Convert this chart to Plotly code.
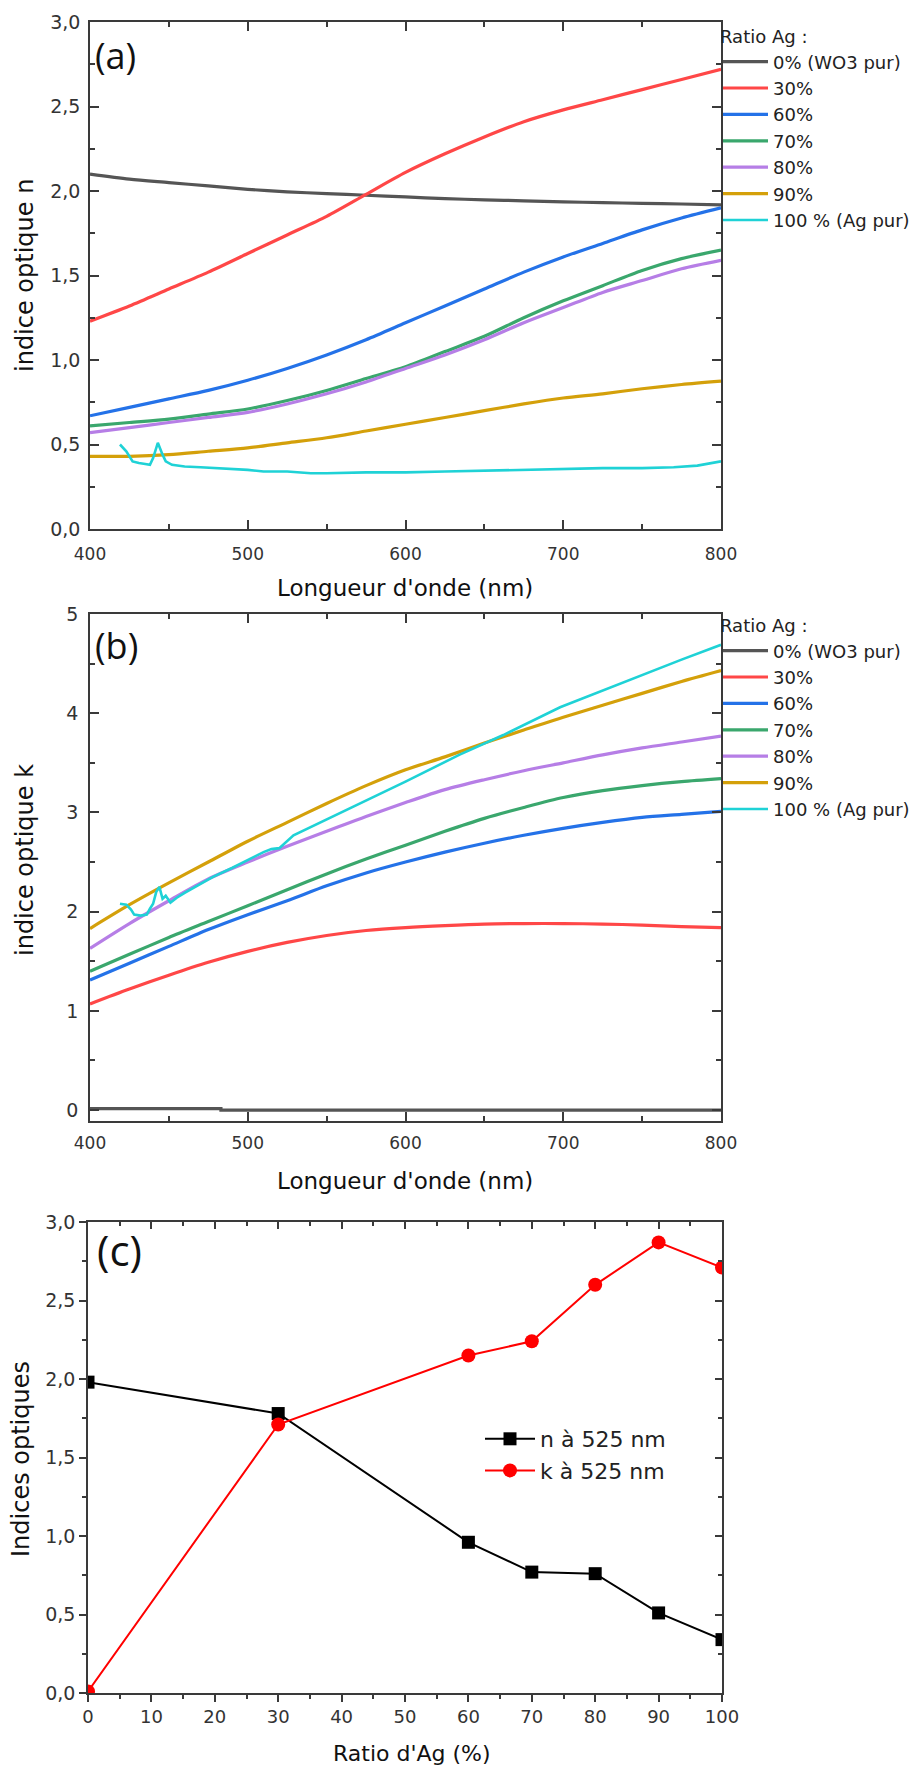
import plotly.graph_objects as go

W, H = 915, 1767

# ---------------- data ----------------
WL = [400, 425, 450, 475, 500, 525, 550, 575, 600, 625, 650, 675, 700, 725, 750, 775, 800]

SERIES_NAMES = ["0% (WO3 pur)", "30%", "60%", "70%", "80%", "90%", "100 % (Ag pur)"]
COLORS = ["#555555", "#ff4747", "#2472e8", "#3aa76d", "#b67ee6", "#d4a00a", "#1fd2d6"]

# panel (a): refractive index n
N_0 = [2.10, 2.07, 2.05, 2.03, 2.01, 1.995, 1.985, 1.975, 1.965, 1.955, 1.948, 1.942, 1.936, 1.931, 1.927, 1.923, 1.918]
N_30 = [1.23, 1.32, 1.42, 1.52, 1.63, 1.74, 1.85, 1.98, 2.11, 2.22, 2.32, 2.41, 2.48, 2.54, 2.60, 2.66, 2.72]
N_60 = [0.67, 0.72, 0.77, 0.82, 0.88, 0.95, 1.03, 1.12, 1.22, 1.32, 1.42, 1.52, 1.61, 1.69, 1.77, 1.84, 1.90]
N_70 = [0.61, 0.63, 0.65, 0.68, 0.71, 0.76, 0.82, 0.89, 0.96, 1.05, 1.14, 1.25, 1.35, 1.44, 1.53, 1.60, 1.65]
N_80 = [0.57, 0.60, 0.63, 0.66, 0.69, 0.74, 0.80, 0.87, 0.95, 1.03, 1.12, 1.22, 1.31, 1.40, 1.47, 1.54, 1.59]
N_90 = [0.43, 0.43, 0.44, 0.46, 0.48, 0.51, 0.54, 0.58, 0.62, 0.66, 0.70, 0.74, 0.775, 0.80, 0.83, 0.855, 0.875]
WL_100N = [419, 423, 427, 431, 435, 438, 440, 443, 446, 448, 452, 460, 470, 480, 500, 510, 525, 540, 550,
           575, 600, 625, 650, 675, 700, 725, 750, 770, 785, 800]
N_100 = [0.50, 0.46, 0.40, 0.39, 0.385, 0.38, 0.42, 0.51, 0.44, 0.40, 0.38, 0.37, 0.365, 0.36, 0.35, 0.34,
         0.34, 0.33, 0.33, 0.335, 0.335, 0.34, 0.345, 0.35, 0.355, 0.36, 0.36, 0.365, 0.375, 0.40]

# panel (b): extinction coefficient k
WL_K0 = [400, 483, 800]
K_0 = [0.015, 0.0, 0.0]
K_30 = [1.07, 1.22, 1.36, 1.49, 1.60, 1.69, 1.76, 1.81, 1.84, 1.86, 1.875, 1.88, 1.88, 1.875, 1.865, 1.85, 1.84]
K_60 = [1.31, 1.48, 1.65, 1.82, 1.97, 2.11, 2.26, 2.39, 2.50, 2.60, 2.69, 2.77, 2.84, 2.90, 2.95, 2.98, 3.01]
K_70 = [1.40, 1.57, 1.74, 1.90, 2.06, 2.22, 2.38, 2.53, 2.67, 2.81, 2.94, 3.05, 3.15, 3.22, 3.27, 3.31, 3.34]
K_80 = [1.63, 1.88, 2.11, 2.33, 2.50, 2.66, 2.81, 2.96, 3.10, 3.23, 3.33, 3.42, 3.50, 3.58, 3.65, 3.71, 3.77]
K_90 = [1.83, 2.07, 2.29, 2.50, 2.71, 2.90, 3.09, 3.27, 3.43, 3.56, 3.70, 3.83, 3.96, 4.08, 4.20, 4.32, 4.43]
WL_100K = [419, 423, 426, 428, 432, 436, 438, 440, 442, 444, 446, 448, 451, 455, 460, 470, 478, 490, 500,
           510, 515, 520, 529, 550, 575, 600, 634, 662, 698, 725, 750, 775, 800]
K_100 = [2.08, 2.07, 2.02, 1.97, 1.96, 1.97, 2.03, 2.08, 2.20, 2.25, 2.13, 2.16, 2.09, 2.14, 2.19, 2.28, 2.35,
         2.44, 2.52, 2.60, 2.63, 2.64, 2.77, 2.93, 3.12, 3.31, 3.58, 3.78, 4.06, 4.23, 4.39, 4.54, 4.69]

# panel (c): indices at 525 nm vs Ag ratio
RATIO = [0, 30, 60, 70, 80, 90, 100]
N_525 = [1.98, 1.78, 0.96, 0.77, 0.76, 0.51, 0.34]
K_525 = [0.01, 1.71, 2.15, 2.24, 2.60, 2.87, 2.71]

# ---------------- layout helpers ----------------
FONT = "DejaVu Sans"
TICK_C = "#333333"
AX_C = "#3a3a3a"


def px(x):
    return x / W


def py(y):
    return 1 - y / H


fig = go.Figure()

n_series = [(WL, N_0), (WL, N_30), (WL, N_60), (WL, N_70), (WL, N_80), (WL, N_90), (WL_100N, N_100)]
k_series = [(WL_K0, K_0), (WL, K_30), (WL, K_60), (WL, K_70), (WL, K_80), (WL, K_90), (WL_100K, K_100)]

for i, (xs, ys) in enumerate(n_series):
    noisy = i == 6
    fig.add_trace(go.Scatter(
        x=xs, y=ys, mode="lines", name=SERIES_NAMES[i],
        line=dict(color=COLORS[i], width=3.2 if not noisy else 2.6,
                  shape="linear" if noisy else "spline", smoothing=0.8),
        xaxis="x", yaxis="y", legend="legend"))

for i, (xs, ys) in enumerate(k_series):
    noisy = i == 6
    shape = "hv" if i == 0 else ("linear" if noisy else "spline")
    fig.add_trace(go.Scatter(
        x=xs, y=ys, mode="lines", name=SERIES_NAMES[i],
        line=dict(color=COLORS[i], width=3.2 if not noisy else 2.6, shape=shape, smoothing=0.8),
        xaxis="x2", yaxis="y2", legend="legend2"))

fig.add_trace(go.Scatter(
    x=RATIO, y=N_525, mode="lines+markers", name="n à 525 nm",
    line=dict(color="black", width=2), marker=dict(symbol="square", size=13, color="black"),
    xaxis="x3", yaxis="y3", legend="legend3"))
fig.add_trace(go.Scatter(
    x=RATIO, y=K_525, mode="lines+markers", name="k à 525 nm",
    line=dict(color="red", width=2), marker=dict(symbol="circle", size=14, color="red"),
    xaxis="x3", yaxis="y3", legend="legend3"))
# empty trace to anchor the mirrored (inside-tick) axes of panel (c)
fig.add_trace(go.Scatter(x=[], y=[], xaxis="x4", yaxis="y4", showlegend=False, hoverinfo="skip"))

ytickfont = dict(family=FONT, size=19, color=TICK_C)
xtickfont = dict(family=FONT, size=17, color=TICK_C)


def ax_inside(domain, rng, dtick, mdtick, anchor, standoff, tfont):
    return dict(domain=domain, range=rng, anchor=anchor, showline=True, linecolor=AX_C, linewidth=1.5,
                mirror="ticks", ticks="inside", ticklen=9, tickwidth=1.5, tickcolor=AX_C,
                dtick=dtick, tick0=0, showgrid=False, zeroline=False, tickfont=tfont,
                ticklabelstandoff=standoff, automargin=False,
                minor=dict(ticks="inside", ticklen=5, tickwidth=1.5, tickcolor=AX_C, dtick=mdtick, showgrid=False))


XD = [px(90), px(721)]
fig.update_layout(
    xaxis=ax_inside(XD, [400, 800], 100, 50, "y", 9, xtickfont),
    yaxis=dict(**ax_inside([py(529), py(22)], [0, 3], 0.5, 0.25, "x", 4, ytickfont), tickformat=".1f"),
    xaxis2=ax_inside(XD, [400, 800], 100, 50, "y2", 6, xtickfont),
    yaxis2=ax_inside([py(1121), py(614)], [-0.11, 5], 1, 0.5, "x2", 6, ytickfont),
    xaxis3=dict(domain=[px(88), px(722)], range=[0, 100], anchor="y3", showline=True, linecolor=AX_C,
                linewidth=1.5, ticks="outside", ticklen=7, tickwidth=1.5, tickcolor=AX_C, dtick=10, tick0=0,
                showgrid=False, zeroline=False, tickfont=dict(family=FONT, size=18, color=TICK_C),
                automargin=False,
                minor=dict(ticks="outside", ticklen=4, tickwidth=1.5, tickcolor=AX_C, dtick=5, showgrid=False)),
    yaxis3=dict(domain=[py(1693), py(1222)], range=[0, 3], anchor="x3", showline=True, linecolor=AX_C,
                linewidth=1.5, ticks="outside", ticklen=7, tickwidth=1.5, tickcolor=AX_C, dtick=0.5, tick0=0,
                showgrid=False, zeroline=False, tickfont=ytickfont, tickformat=".1f", automargin=False,
                minor=dict(ticks="outside", ticklen=4, tickwidth=1.5, tickcolor=AX_C, dtick=0.25, showgrid=False)),
    xaxis4=dict(overlaying="x3", side="top", anchor="y4", range=[0, 100], showline=True, linecolor=AX_C,
                linewidth=1.5, ticks="inside", ticklen=7, tickwidth=1.5, tickcolor=AX_C, dtick=10, tick0=0,
                showticklabels=False, showgrid=False, zeroline=False, automargin=False,
                minor=dict(ticks="inside", ticklen=4, tickwidth=1.5, tickcolor=AX_C, dtick=5, showgrid=False)),
    yaxis4=dict(overlaying="y3", side="right", anchor="x4", range=[0, 3], showline=True, linecolor=AX_C,
                linewidth=1.5, ticks="inside", ticklen=7, tickwidth=1.5, tickcolor=AX_C, dtick=0.5, tick0=0,
                showticklabels=False, showgrid=False, zeroline=False, automargin=False,
                minor=dict(ticks="inside", ticklen=4, tickwidth=1.5, tickcolor=AX_C, dtick=0.25, showgrid=False)),
    separators=",.",
)

legfont = dict(family=FONT, size=18, color="#222222")
fig.update_layout(
    legend=dict(x=px(718), y=py(20), xanchor="left", yanchor="top", bgcolor="rgba(0,0,0,0)",
                font=legfont, title=dict(text="Ratio Ag :", font=legfont), itemwidth=45, tracegroupgap=0),
    legend2=dict(x=px(718), y=py(609), xanchor="left", yanchor="top", bgcolor="rgba(0,0,0,0)",
                 font=legfont, title=dict(text="Ratio Ag :", font=legfont), itemwidth=45, tracegroupgap=0),
    legend3=dict(x=px(480), y=py(1418), xanchor="left", yanchor="top", bgcolor="rgba(0,0,0,0)",
                 font=dict(family=FONT, size=22, color="#222222"), itemwidth=50, tracegroupgap=0),
)

annos = [
    dict(text="Longueur d'onde (nm)", x=px(405), y=py(588), font=dict(family=FONT, size=23, color="#111")),
    dict(text="Longueur d'onde (nm)", x=px(405), y=py(1181), font=dict(family=FONT, size=23, color="#111")),
    dict(text="Ratio d'Ag (%)", x=px(412), y=py(1753), font=dict(family=FONT, size=22, color="#111")),
    dict(text="indice optique n", x=px(25), y=py(276), textangle=-90, font=dict(family=FONT, size=24, color="#111")),
    dict(text="indice optique k", x=px(25), y=py(860), textangle=-90, font=dict(family=FONT, size=24, color="#111")),
    dict(text="Indices optiques", x=px(21), y=py(1459), textangle=-90, font=dict(family=FONT, size=24, color="#111")),
    dict(text="(a)", x=px(93), y=py(56), xanchor="left", font=dict(family="Open Sans", size=36, color="#111")),
    dict(text="(b)", x=px(93), y=py(645), xanchor="left", font=dict(family="Open Sans", size=36, color="#111")),
    dict(text="(c)", x=px(95), y=py(1249), xanchor="left", font=dict(family="Open Sans", size=42, color="#111")),
]
for a in annos:
    a.setdefault("xanchor", "center")
    a.update(xref="paper", yref="paper", yanchor="middle", showarrow=False)
fig.update_layout(annotations=annos)

fig.update_layout(width=W, height=H, margin=dict(l=0, r=0, t=0, b=0, autoexpand=False),
                  paper_bgcolor="white", plot_bgcolor="white", showlegend=True)

fig.write_html("out.html", config={"displayModeBar": False},
               post_script="document.body.style.margin='0';document.body.style.padding='0';"
                           "document.body.style.overflow='hidden';")
